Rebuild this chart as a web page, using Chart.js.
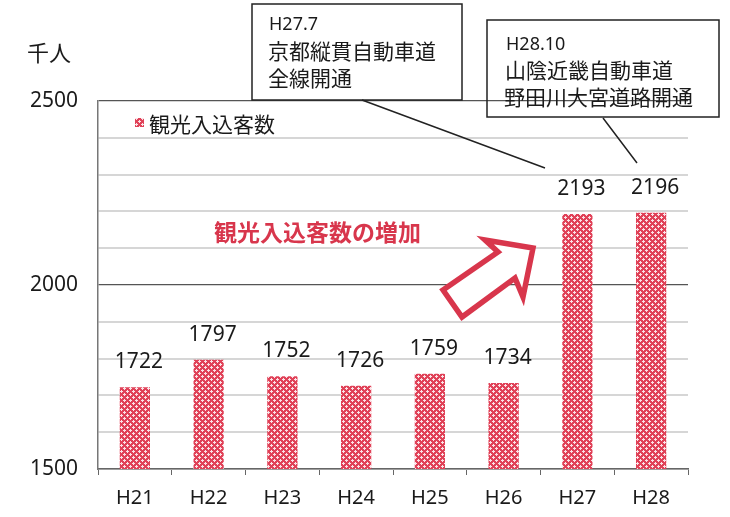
<!DOCTYPE html>
<html>
<head>
<meta charset="utf-8">
<script src="https://cdn.jsdelivr.net/npm/chart.js@4/dist/chart.umd.min.js"></script>
<style>
  body { margin: 0; background: #fff; }
  #wrap { width: 730px; height: 517px; }
</style>
</head>
<body>
<div id="wrap"><canvas id="myChart" width="730" height="517"></canvas></div>
<script>
// data
const years = ['H21', 'H22', 'H23', 'H24', 'H25', 'H26', 'H27', 'H28'];
const visitors = [1722, 1797, 1752, 1726, 1759, 1734, 2193, 2196];
const seriesName = '観光入込客数';
const yTicks = [1500, 2000, 2500];

const FONT = "'Noto Sans', 'Noto Sans CJK JP', sans-serif";
const JP = "'Noto Sans CJK JP', 'Noto Sans', sans-serif";
const RED = '#d8364c';

// crosshatch-like pink fill
function makePattern() {
    const c = document.createElement('canvas');
    c.width = 6; c.height = 6;
    const g = c.getContext('2d');
    g.fillStyle = '#e04258';
    g.fillRect(0, 0, 6, 6);
    g.fillStyle = '#fbe3e7';
    [[1,0],[0,1],[1,1],[2,1],[1,2],[4,3],[3,4],[4,4],[5,4],[4,5]].forEach(function(p) {
        g.fillRect(p[0], p[1], 1, 1);
    });
    return g.createPattern(c, 'repeat');
}

const ctx = document.getElementById('myChart').getContext('2d');
const pattern = makePattern();

// value labels above bars + legend + annotations
const extras = {
    id: 'extras',
    afterDatasetsDraw: function(chart) {
        const c = chart.ctx;
        const meta = chart.getDatasetMeta(0);
        c.save();
        c.fillStyle = '#1a1a1a';
        c.font = '21px ' + FONT;
        c.textAlign = 'center';
        c.textBaseline = 'middle';
        meta.data.forEach(function(bar, i) {
            c.fillText(String(visitors[i]), bar.x + 4, bar.y - 25);
        });
        c.restore();
    },
    afterDraw: function(chart) {
        const c = chart.ctx;
        c.save();

        // unit
        c.fillStyle = '#1a1a1a';
        c.font = '22px ' + JP;
        c.textBaseline = 'middle';
        c.textAlign = 'left';
        c.fillText('千人', 27, 53);

        // legend
        c.fillStyle = pattern;
        c.fillRect(135, 118, 9, 9);
        c.fillStyle = '#1a1a1a';
        c.font = '21px ' + JP;
        c.fillText(seriesName, 149, 124);

        // red caption
        c.fillStyle = RED;
        c.font = 'bold 23px ' + JP;
        c.fillText('観光入込客数の増加', 214, 232);

        // hollow arrow
        c.beginPath();
        c.moveTo(443, 290);
        c.lineTo(498, 252);
        c.lineTo(485, 240);
        c.lineTo(533, 248);
        c.lineTo(523, 297);
        c.lineTo(515, 278);
        c.lineTo(462, 317);
        c.closePath();
        c.fillStyle = '#fff';
        c.fill();
        c.lineWidth = 5.5;
        c.lineJoin = 'miter';
        c.strokeStyle = RED;
        c.stroke();

        // callout boxes
        c.strokeStyle = '#222';
        c.lineWidth = 1.5;
        c.strokeRect(252, 4, 210, 96);
        c.strokeRect(487, 20, 232, 97);
        c.beginPath();
        c.moveTo(362, 100); c.lineTo(545, 168);
        c.moveTo(603, 118); c.lineTo(637, 163);
        c.stroke();

        c.fillStyle = '#1a1a1a';
        c.font = '18px ' + FONT;
        c.fillText('H27.7', 269, 25);
        c.fillText('H28.10', 506, 45);
        c.font = '21px ' + JP;
        c.fillText('京都縦貫自動車道', 268, 51);
        c.fillText('全線開通', 268, 78);
        c.fillText('山陰近畿自動車道', 505, 70);
        c.fillText('野田川大宮道路開通', 504, 97);
        c.restore();
    }
};

new Chart(ctx, {
    type: 'bar',
    data: {
        labels: years,
        datasets: [{
            label: seriesName,
            data: visitors,
            backgroundColor: pattern,
            borderWidth: 0,
            categoryPercentage: 1,
            barPercentage: 0.41
        }]
    },
    options: {
        responsive: false,
        animation: false,
        layout: { padding: { top: 101, right: 42, left: 0, bottom: 0 } },
        plugins: {
            legend: { display: false },
            tooltip: { enabled: false }
        },
        scales: {
            x: {
                grid: {
                    offset: true,
                    drawOnChartArea: false,
                    drawTicks: true,
                    tickLength: 6,
                    color: '#666'
                },
                border: { color: '#666', width: 1.5 },
                ticks: {
                    color: '#1a1a1a',
                    font: { family: FONT, size: 20 },
                    padding: 11
                },
                afterFit: function(s) { s.height = 48; }
            },
            y: {
                min: 1500,
                max: 2500,
                grid: {
                    drawTicks: false,
                    color: function(c) {
                        const v = c.tick.value;
                        return (v === 2000 || v === 2500) ? '#555' : '#d6d6d6';
                    },
                    lineWidth: function(c) {
                        const v = c.tick.value;
                        return (v === 2000 || v === 2500) ? 1.2 : 2;
                    }
                },
                border: { color: '#777', width: 1.5 },
                ticks: {
                    stepSize: 100,
                    color: '#1a1a1a',
                    font: { family: FONT, size: 21 },
                    padding: 20,
                    callback: function(v) {
                        return yTicks.indexOf(v) >= 0 ? String(v) : '';
                    }
                },
                afterFit: function(s) { s.width = 98; }
            }
        }
    },
    plugins: [extras]
});
</script>
</body>
</html>
